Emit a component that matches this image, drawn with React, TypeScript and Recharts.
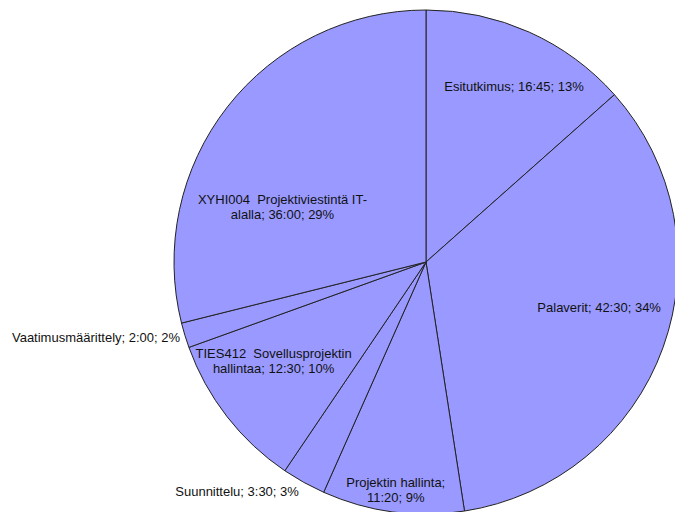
import React from 'react';
import { PieChart, Pie, Cell } from 'recharts';

// time spent per task (h:mm)
const categories = [
    'Esitutkimus',
    'Palaverit',
    'Projektin hallinta',
    'Suunnittelu',
    'TIES412  Sovellusprojektin hallintaa',
    'Vaatimusmäärittely',
    'XYHI004  Projektiviestintä IT-alalla',
];
const durations = ['16:45', '42:30', '11:20', '3:30', '12:30', '2:00', '36:00'];

const toMinutes = (s: string) => {
    const [h, m] = s.split(':').map(Number);
    return h * 60 + m;
};

const data = categories.map((name, i) => ({ name, time: durations[i], minutes: toMinutes(durations[i]) }));

// label placement like Excel's "best fit": turn = clockwise nudge in degrees, r = factor of radius
const labelPlacement = [
    { turn: 2.4, r: 0.78, anchor: 'middle', wrap: 40 },
    { turn: -5.2, r: 0.71, anchor: 'middle', wrap: 40 },
    { turn: 0, r: 0.91, anchor: 'middle', wrap: 19 },
    { turn: 0, r: 1.04, anchor: 'end', wrap: 40 },
    { turn: 5, r: 0.72, anchor: 'middle', wrap: 26 },
    { turn: 0, r: 1.02, anchor: 'end', wrap: 40 },
    { turn: -17, r: 0.61, anchor: 'middle', wrap: 30 },
];

const RAD = Math.PI / 180;
const FILL = '#9999ff';

const wrapText = (text: string, max: number) => {
    const tokens = text.match(/(\S+?-|\S+)(\s*)/g) || [];
    const lines: string[] = [];
    let line = '';
    tokens.forEach((t) => {
        if (line && (line + t.trimEnd()).length > max) {
            lines.push(line.trimEnd());
            line = '';
        }
        line += t;
    });
    if (line) lines.push(line.trimEnd());
    return lines;
};

const renderLabel = (props: any) => {
    const { cx, cy, midAngle, outerRadius, index, percent } = props;
    const d = data[index];
    const p = labelPlacement[index];
    const angle = midAngle - p.turn;
    const r = outerRadius * p.r;
    const x = cx + r * Math.cos(-angle * RAD);
    const y = cy + r * Math.sin(-angle * RAD);
    const text = `${d.name}; ${d.time}; ${Math.round(percent * 100)}%`;
    const lines = wrapText(text, p.wrap);
    const lh = 15;
    const y0 = y - ((lines.length - 1) * lh) / 2;
    return (
        <text
            key={`lbl-${index}`}
            x={x}
            y={y0}
            textAnchor={p.anchor}
            dominantBaseline="central"
            fill="#111"
            fontSize={13}
            fontFamily="'Liberation Sans', Arial, sans-serif"
            style={{ whiteSpace: 'pre' }}
        >
            {lines.map((l, i) => (
                <tspan key={i} x={x} dy={i === 0 ? 0 : lh}>
                    {l}
                </tspan>
            ))}
        </text>
    );
};

export default function App() {
    return (
        <div style={{ position: 'absolute', left: 0, top: 0, width: 675, height: 512, background: '#fff' }}>
            <PieChart width={675} height={512} margin={{ top: 0, right: 0, bottom: 0, left: 0 }}>
                <Pie
                    data={data}
                    dataKey="minutes"
                    nameKey="name"
                    cx={426}
                    cy={262}
                    outerRadius={252}
                    startAngle={90}
                    endAngle={-270}
                    stroke="#222"
                    strokeWidth={1}
                    label={renderLabel}
                    labelLine={false}
                    isAnimationActive={false}
                >
                    {data.map((d) => (
                        <Cell key={d.name} fill={FILL} />
                    ))}
                </Pie>
            </PieChart>
        </div>
    );
}
